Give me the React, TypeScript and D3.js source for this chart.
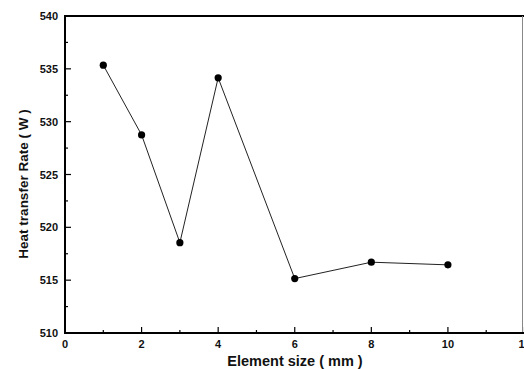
import React from "react";
import * as d3 from "d3";

const elementSizes = [1, 2, 3, 4, 6, 8, 10];
const heatRates = [535.35, 528.75, 518.55, 534.15, 515.15, 516.7, 516.45];
const xTicks = [0, 2, 4, 6, 8, 10, 12];
const yTicks = [510, 515, 520, 525, 530, 535, 540];

const W = 524;
const H = 369;
const m = { left: 65, top: 16, right: 1, bottom: 36 };

export default function App() {
  const x = d3.scaleLinear().domain([0, 12]).range([m.left, 524.5]);
  const y = d3.scaleLinear().domain([510, 540]).range([H - m.bottom, m.top]);
  const line = d3
    .line<number>()
    .x((_, i) => x(elementSizes[i]))
    .y((d) => y(d));
  const x0 = x(0);
  const y0 = y(510);
  const xMinor = d3.range(1, 12, 2);
  const yMinor = d3.range(512.5, 540, 5);
  const font = "'Liberation Sans', Arial, sans-serif";
  return (
    <svg
      width={W}
      height={H}
      style={{ position: "absolute", left: 0, top: 0, background: "#fff" }}
    >
      {/* frame */}
      <line x1={x0} x2={W} y1={y(540)} y2={y(540)} stroke="#000" strokeWidth={2} />
      <line x1={522.5} x2={522.5} y1={y(540)} y2={y0} stroke="#888" strokeWidth={1} />
      <line x1={x0} x2={x0} y1={y(540) - 1} y2={y0 + 1} stroke="#000" strokeWidth={2} />
      <line x1={x0 - 1} x2={W} y1={y0} y2={y0} stroke="#000" strokeWidth={2} />
      {/* x ticks */}
      {xTicks.map((t) => (
        <g key={"xt" + t}>
          <line x1={x(t)} x2={x(t)} y1={y0} y2={y0 - 6} stroke="#000" strokeWidth={1.2} />
          <text
            x={x(t)}
            y={y0 + 15}
            textAnchor="middle"
            fontFamily={font}
            fontWeight="bold"
            fontSize={11}
            fill="#111"
          >
            {t}
          </text>
        </g>
      ))}
      {xMinor.map((t) => (
        <line key={"xm" + t} x1={x(t)} x2={x(t)} y1={y0} y2={y0 - 3} stroke="#000" strokeWidth={1.2} />
      ))}
      {/* y ticks */}
      {yTicks.map((t) => (
        <g key={"yt" + t}>
          <line x1={x0} x2={x0 + 6} y1={y(t)} y2={y(t)} stroke="#000" strokeWidth={1.2} />
          <text
            x={x0 - 7}
            y={y(t) + 4}
            textAnchor="end"
            fontFamily={font}
            fontWeight="bold"
            fontSize={11}
            fill="#111"
          >
            {t}
          </text>
        </g>
      ))}
      {yMinor.map((t) => (
        <line key={"ym" + t} x1={x0} x2={x0 + 3} y1={y(t)} y2={y(t)} stroke="#000" strokeWidth={1.2} />
      ))}
      {/* data */}
      <path d={line(heatRates) || ""} fill="none" stroke="#222" strokeWidth={1} />
      {heatRates.map((v, i) => (
        <circle key={"p" + i} cx={x(elementSizes[i])} cy={y(v)} r={3.6} fill="#000" />
      ))}
      {/* titles */}
      <text
        x={295}
        y={366}
        textAnchor="middle"
        fontFamily={font}
        fontWeight="bold"
        fontSize={14.5}
        fill="#111"
      >
        Element size ( mm )
      </text>
      <text
        transform={`translate(28, 184) rotate(-90)`}
        textAnchor="middle"
        fontFamily={font}
        fontWeight="bold"
        fontSize={13.5}
        fill="#111"
      >
        Heat transfer Rate ( W )
      </text>
    </svg>
  );
}
